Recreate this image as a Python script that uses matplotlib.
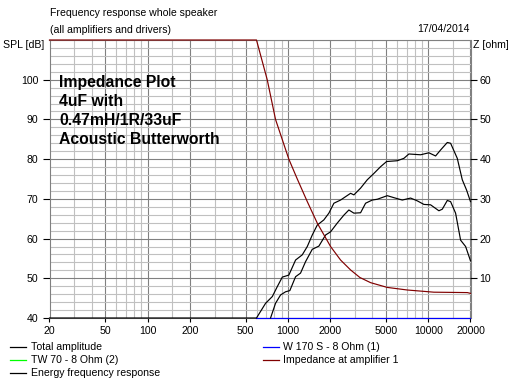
import numpy as np
import matplotlib
matplotlib.use("Agg")
import matplotlib.pyplot as plt
from matplotlib.lines import Line2D

# ---------------- data ----------------
freq_total = [20, 597, 693, 774, 840, 912, 1015, 1134, 1265, 1374, 1491, 1618, 1803,
              1958, 2126, 2372, 2796, 2952, 3294, 3676, 4098, 4574, 5048, 6018, 6704,
              7278, 8821, 10100, 11280, 12240, 13670, 14430, 16100, 17480, 18760, 20000]
spl_total = [40, 40, 43.7, 45.4, 47.9, 50.3, 50.8, 54.6, 55.9, 58.0, 60.9, 63.4, 64.7,
             66.4, 68.9, 69.7, 71.4, 71.0, 72.7, 74.8, 76.4, 78.1, 79.4, 79.6, 80.2,
             81.3, 81.1, 81.6, 80.8, 82.3, 84.2, 84.0, 80.2, 74.8, 72.2, 69.3]

freq_energy = [752, 816, 886, 962, 1032, 1134, 1230, 1336, 1491, 1662, 1855, 2013, 2247,
               2504, 2719, 2952, 3294, 3576, 3990, 4332, 5107, 5690, 6530, 7483, 8352,
               9311, 10390, 11908, 12590, 13670, 14430, 15660, 17000, 18460, 20000]
spl_energy = [40, 43.7, 45.8, 46.6, 46.9, 50.4, 51.3, 54.2, 57.3, 58.1, 60.9, 61.7, 63.9,
              65.9, 67.2, 66.4, 66.5, 68.9, 69.7, 69.9, 70.8, 70.3, 69.7, 70.2, 69.5,
              68.6, 68.5, 67.0, 67.4, 69.6, 69.3, 66.4, 59.6, 58.0, 54.4]

freq_woofer = [597, 20000]
spl_woofer = [40, 40]

freq_imp = [20, 597, 712, 816, 1015, 1166, 1374, 1618, 2013, 2372, 2796, 3256, 3882,
            5107, 7088, 10965, 19000, 20000]
z_imp = [70, 70, 60, 50, 40, 35, 29.3, 23.9, 18, 14.6, 12.1, 10.2, 8.9,
         7.7, 7.05, 6.5, 6.4, 6.2]

x_ticks = [20, 50, 100, 200, 500, 1000, 2000, 5000, 10000, 20000]
x_tick_labels = ["20", "50", "100", "200", "500", "1000", "2000", "5000", "10000", "20000"]
x_minor = [30, 40, 60, 70, 80, 90, 150, 300, 400, 600, 700, 800, 900, 1500,
           3000, 4000, 6000, 7000, 8000, 9000, 15000]
spl_ticks = [40, 50, 60, 70, 80, 90, 100]
z_ticks = [10, 20, 30, 40, 50, 60]

annotation_lines = ["Impedance Plot", "4uF with", "0.47mH/1R/33uF", "Acoustic Butterworth"]
legend_left = [("Total amplitude", "#000000"), ("TW 70 - 8 Ohm (2)", "#00ff00"),
               ("Energy frequency response", "#000000")]
legend_right = [("W 170 S - 8 Ohm (1)", "#0000ff"), ("Impedance at amplifier 1", "#800000")]

# ---------------- figure ----------------
W, H = 517, 382
plt.rcParams['font.family'] = ['Liberation Sans', 'DejaVu Sans']
FS = 7.6

def fx(px):
    return px / W

def fy(py):
    return 1 - py / H

fig = plt.figure(figsize=(W / 100, H / 100), dpi=100, facecolor="white")
L, R, T, B = 49.5, 470.5, 40, 318
ax = fig.add_axes([fx(L), fy(B), fx(R) - fx(L), fy(T) - fy(B)])
ax.set_xscale("log")
ax.set_xlim(20, 20000)
ax.set_ylim(40, 110)

ax.set_xticks(x_ticks, x_tick_labels)
ax.set_xticks(x_minor, minor=True)
ax.set_yticks(spl_ticks)
ax.set_yticks(np.arange(40, 111, 2), minor=True)
ax.tick_params(axis="x", which="major", length=3, width=0.8, pad=2.5, labelsize=FS, color="black")
ax.tick_params(axis="y", which="major", length=5, width=0.8, pad=3, labelsize=FS, color="black")
ax.tick_params(which="minor", length=0)
ax.xaxis.set_minor_formatter(plt.NullFormatter())

ax.grid(which="minor", color="#c0c0c0", lw=0.8)
ax.grid(which="major", color="#808080", lw=0.8)
ax.set_axisbelow(True)
for s in ax.spines.values():
    s.set_color("#808080")
    s.set_linewidth(0.8)

lw = 0.85
ax.plot(freq_woofer, spl_woofer, color="#0000ff", lw=lw, clip_on=False, zorder=3)
ax.plot(freq_total, spl_total, color="black", lw=lw, clip_on=False, zorder=4)
ax.plot(freq_energy, spl_energy, color="black", lw=lw, clip_on=False, zorder=4)

ax2 = ax.twinx()
ax2.set_ylim(0, 70)
ax2.set_yticks(z_ticks)
ax2.tick_params(axis="y", length=5, width=0.8, pad=1.5, labelsize=FS, color="black")
for s in ax2.spines.values():
    s.set_visible(False)
ax2.plot(freq_imp, np.minimum(z_imp, 70), color="#800000", lw=lw, clip_on=False, zorder=5)

# annotation block
for i, line in enumerate(annotation_lines):
    fig.text(fx(59), fy(87.5 + i * 18.9), line, fontsize=11.3, fontweight="bold",
             color="black", va="baseline", ha="left", zorder=10)

# header texts
fig.text(fx(50), fy(16.5), "Frequency response whole speaker", fontsize=FS, va="baseline")
fig.text(fx(50), fy(33), "(all amplifiers and drivers)", fontsize=FS, va="baseline")
fig.text(fx(470), fy(32.5), "17/04/2014", fontsize=FS, va="baseline", ha="right")
fig.text(fx(3), fy(47.5), "SPL [dB]", fontsize=FS, va="baseline", ha="left")
fig.text(fx(473), fy(47.5), "Z [ohm]", fontsize=FS, va="baseline", ha="left")

# legend
rows = [346.7, 360.2, 373.2]
for (label, col), yy in zip(legend_left, rows):
    fig.add_artist(Line2D([fx(10), fx(25.5)], [fy(yy), fy(yy)], color=col, lw=0.9,
                          transform=fig.transFigure))
    fig.text(fx(31), fy(yy), label, fontsize=FS, va="center", ha="left")
for (label, col), yy in zip(legend_right, rows):
    fig.add_artist(Line2D([fx(263.3), fx(278.5)], [fy(yy), fy(yy)], color=col, lw=0.9,
                          transform=fig.transFigure))
    fig.text(fx(283.3), fy(yy), label, fontsize=FS, va="center", ha="left")

fig.savefig("out.png", dpi=100, facecolor="white")
